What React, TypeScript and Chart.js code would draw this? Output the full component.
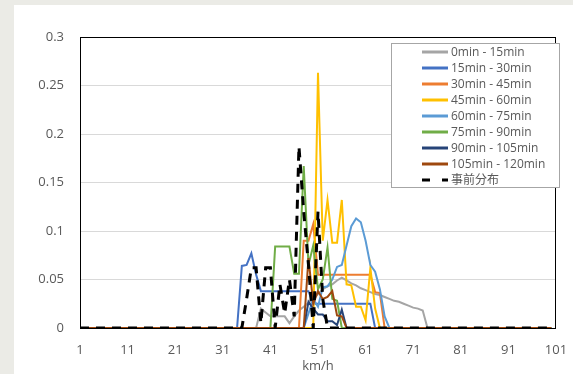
import React, { useEffect, useRef } from "react";
import { Chart, registerables } from "chart.js";

Chart.register(...registerables);

const categories: string[] = Array.from({ length: 101 }, (_, i) => String(i + 1));
const xTickLabels = ["1", "11", "21", "31", "41", "51", "61", "71", "81", "91", "101"];
const yTickLabels = ["0", "0.05", "0.1", "0.15", "0.2", "0.25", "0.3"];

const seriesNames = [
  "0min - 15min",
  "15min - 30min",
  "30min - 45min",
  "45min - 60min",
  "60min - 75min",
  "75min - 90min",
  "90min - 105min",
  "105min - 120min",
  "事前分布",
];

const s0_15 = [
  0,0,0,0,0,0,0,0,0,0,
  0,0,0,0,0,0,0,0,0,0,
  0,0,0,0,0,0,0,0,0,0,
  0,0,0,0,0,0,0,0,0.02,0.016,
  0.012,0.012,0.012,0.012,0.005,0.012,0.018,0.022,0.026,0.03,
  0.035,0.04,0.043,0.045,0.049,0.052,0.049,0.046,0.044,0.041,
  0.039,0.037,0.035,0.034,0.032,0.03,0.028,0.027,0.025,0.023,
  0.021,0.02,0.018,0,0,0,0,0,0,0,
  0,0,0,0,0,0,0,0,0,0,
  0,0,0,0,0,0,0,0,0,0,
];
const s15_30 = [
  0,0,0,0,0,0,0,0,0,0,
  0,0,0,0,0,0,0,0,0,0,
  0,0,0,0,0,0,0,0,0,0,
  0,0,0,0,0.064,0.065,0.077,0.055,0.038,0.038,
  0.038,0.038,0.038,0.038,0.038,0.038,0.038,0.038,0.038,0.025,
  0.025,0.025,0.025,0.025,0.025,0.025,0.025,0.025,0.025,0.025,
  0.025,0.025,0,0,0,0,0,0,0,0,
  0,0,0,0,0,0,0,0,0,0,
  0,0,0,0,0,0,0,0,0,0,
  0,0,0,0,0,0,0,0,0,0,
];
const s30_45 = [
  0,0,0,0,0,0,0,0,0,0,
  0,0,0,0,0,0,0,0,0,0,
  0,0,0,0,0,0,0,0,0,0,
  0,0,0,0,0,0,0,0,0,0,
  0,0,0,0,0,0,0,0.09,0.09,0.107,
  0.055,0.055,0.055,0.055,0.055,0.055,0.055,0.055,0.055,0.055,
  0.055,0.055,0.037,0.036,0,0,0,0,0,0,
  0,0,0,0,0,0,0,0,0,0,
  0,0,0,0,0,0,0,0,0,0,
  0,0,0,0,0,0,0,0,0,0,
];
const s45_60 = [
  0,0,0,0,0,0,0,0,0,0,
  0,0,0,0,0,0,0,0,0,0,
  0,0,0,0,0,0,0,0,0,0,
  0,0,0,0,0,0,0,0,0,0,
  0,0,0,0,0,0,0,0,0,0,
  0.263,0.09,0.132,0.088,0.088,0.132,0.045,0.044,0.022,0.022,
  0.008,0.062,0.02,0,0,0,0,0,0,0,
  0,0,0,0,0,0,0,0,0,0,
  0,0,0,0,0,0,0,0,0,0,
  0,0,0,0,0,0,0,0,0,0,
];
const s60_75 = [
  0,0,0,0,0,0,0,0,0,0,
  0,0,0,0,0,0,0,0,0,0,
  0,0,0,0,0,0,0,0,0,0,
  0,0,0,0,0,0,0,0,0,0,
  0,0,0,0,0,0,0,0,0.015,0.03,
  0.022,0.042,0.043,0.05,0.063,0.065,0.085,0.105,0.113,0.109,
  0.09,0.065,0.058,0.04,0.012,0,0,0,0,0,
  0,0,0,0,0,0,0,0,0,0,
  0,0,0,0,0,0,0,0,0,0,
  0,0,0,0,0,0,0,0,0,0,
];
const s75_90 = [
  0,0,0,0,0,0,0,0,0,0,
  0,0,0,0,0,0,0,0,0,0,
  0,0,0,0,0,0,0,0,0,0,
  0,0,0,0,0,0,0,0,0,0,
  0,0.084,0.084,0.084,0.084,0.056,0.056,0.167,0.065,0.085,
  0.04,0.05,0.083,0.03,0.028,0,0,0,0,0,
  0,0,0,0,0,0,0,0,0,0,
  0,0,0,0,0,0,0,0,0,0,
  0,0,0,0,0,0,0,0,0,0,
  0,0,0,0,0,0,0,0,0,0,
];
const s90_105 = [
  0,0,0,0,0,0,0,0,0,0,
  0,0,0,0,0,0,0,0,0,0,
  0,0,0,0,0,0,0,0,0,0,
  0,0,0,0,0,0,0,0,0,0,
  0,0,0,0,0,0,0,0,0.027,0.02,
  0.014,0.014,0.007,0.007,0.003,0.019,0,0,0,0,
  0,0,0,0,0,0,0,0,0,0,
  0,0,0,0,0,0,0,0,0,0,
  0,0,0,0,0,0,0,0,0,0,
  0,0,0,0,0,0,0,0,0,0,
];
const s105_120 = [
  0,0,0,0,0,0,0,0,0,0,
  0,0,0,0,0,0,0,0,0,0,
  0,0,0,0,0,0,0,0,0,0,
  0,0,0,0,0,0,0,0,0,0,
  0,0,0,0,0,0,0,0,0.072,0.025,
  0.038,0.03,0.032,0.038,0.013,0.012,0,0,0,0,
  0,0,0,0,0,0,0,0,0,0,
  0,0,0,0,0,0,0,0,0,0,
  0,0,0,0,0,0,0,0,0,0,
  0,0,0,0,0,0,0,0,0,0,
];
const sPrior = [
  0,0,0,0,0,0,0,0,0,0,
  0,0,0,0,0,0,0,0,0,0,
  0,0,0,0,0,0,0,0,0,0,
  0,0,0,0,0,0.03,0.062,0.062,0.005,0.062,
  0.062,0,0.045,0.015,0.05,0.012,0.187,0.12,0.065,0,
  0.12,0.03,0,0,0,0,0,0,0,0,
  0,0,0,0,0,0,0,0,0,0,
  0,0,0,0,0,0,0,0,0,0,
  0,0,0,0,0,0,0,0,0,0,
  0,0,0,0,0,0,0,0,0,0,
];

const seriesData = [s0_15, s15_30, s30_45, s45_60, s60_75, s75_90, s90_105, s105_120, sPrior];
const seriesColors = ["#A5A5A5", "#4472C4", "#ED7D31", "#FFC000", "#5B9BD5", "#70AD47", "#264478", "#9E480E", "#000000"];

const FONT = '"Open Sans", "Noto Sans CJK JP", sans-serif';
const TEXT = "#595959";

const framePlugin = {
  id: "frameAndLegend",
  beforeDatasetsDraw(chart: any) {
    const { ctx, chartArea } = chart;
    ctx.save();
    ctx.strokeStyle = "#000";
    ctx.lineWidth = 1;
    ctx.strokeRect(
      Math.round(chartArea.left) + 0.5,
      Math.round(chartArea.top) + 0.5,
      Math.round(chartArea.right - chartArea.left) - 1,
      Math.round(chartArea.bottom - chartArea.top)
    );
    ctx.restore();
  },
  afterDraw(chart: any) {
    const { ctx } = chart;
    ctx.save();
    ctx.fillStyle = "#fff";
    ctx.fillRect(391, 43, 169, 145);
    ctx.strokeStyle = "#a6a6a6";
    ctx.lineWidth = 1;
    ctx.strokeRect(391.5, 43.5, 168, 144);
    ctx.font = `12px ${FONT}`;
    ctx.textBaseline = "middle";
    ctx.textAlign = "left";
    seriesNames.forEach((name, i) => {
      const y = Math.round(52.3 + i * 15.96);
      ctx.strokeStyle = seriesColors[i];
      ctx.lineWidth = 3;
      ctx.beginPath();
      if (i === 8) {
        ctx.moveTo(422, y);
        ctx.lineTo(430, y);
        ctx.moveTo(442, y);
        ctx.lineTo(448, y);
      } else {
        ctx.moveTo(422, y);
        ctx.lineTo(448, y);
      }
      ctx.stroke();
      ctx.fillStyle = TEXT;
      ctx.fillText(name, 451, y + 1);
    });
    ctx.restore();
  },
};

export default function App() {
  const canvasRef = useRef<HTMLCanvasElement | null>(null);

  useEffect(() => {
    document.body.style.margin = "0";
    const canvas = canvasRef.current;
    if (!canvas) return;
    const datasets = seriesData.map((d, i) => ({
      label: seriesNames[i],
      data: d,
      borderColor: seriesColors[i],
      backgroundColor: seriesColors[i],
      borderWidth: i === 8 ? 3 : 2,
      borderDash: i === 8 ? [9, 7] : [],
      pointRadius: 0,
      tension: 0,
      fill: false,
      order: 8 - i,
    }));
    const chart = new Chart(canvas, {
      type: "line",
      data: { labels: categories, datasets },
      options: {
        responsive: false,
        animation: false,
        devicePixelRatio: 1,
        layout: { padding: { left: 0, right: 17, top: 37, bottom: 0 } },
        plugins: { legend: { display: false }, tooltip: { enabled: false } },
        scales: {
          x: {
            type: "category",
            offset: false,
            grid: { display: false, drawTicks: false },
            border: { display: false },
            ticks: {
              autoSkip: false,
              maxRotation: 0,
              minRotation: 0,
              padding: 14,
              color: TEXT,
              font: { family: FONT, size: 13 },
              callback: (_v: any, i: number) => (xTickLabels.includes(categories[i]) ? categories[i] : ""),
            },
            title: {
              display: true,
              text: "km/h",
              color: TEXT,
              font: { family: FONT, size: 13 },
              padding: { top: 0, bottom: 0 },
            },
            afterFit: (s: any) => {
              s.height = 46;
              s.paddingLeft = 0;
              s.paddingRight = 0;
            },
          },
          y: {
            min: 0,
            max: 0.3,
            grid: { color: "#d9d9d9", drawTicks: false, lineWidth: 1 },
            border: { display: false },
            ticks: {
              stepSize: 0.05,
              padding: 16,
              color: TEXT,
              font: { family: FONT, size: 13 },
              callback: (_v: any, i: number) => yTickLabels[i],
            },
            afterFit: (s: any) => {
              s.width = 80;
              s.paddingTop = 0;
              s.paddingBottom = 0;
            },
          },
        },
      },
      plugins: [framePlugin],
    });
    return () => chart.destroy();
  }, []);

  return (
    <div style={{ position: "relative", width: 573, height: 374, background: "#ebebe6", overflow: "hidden" }}>
      <div style={{ position: "absolute", left: 14, top: 5, right: 0, bottom: 0, background: "#ffffff" }} />
      <canvas ref={canvasRef} width={573} height={374} style={{ position: "absolute", left: 0, top: 0 }} />
    </div>
  );
}
